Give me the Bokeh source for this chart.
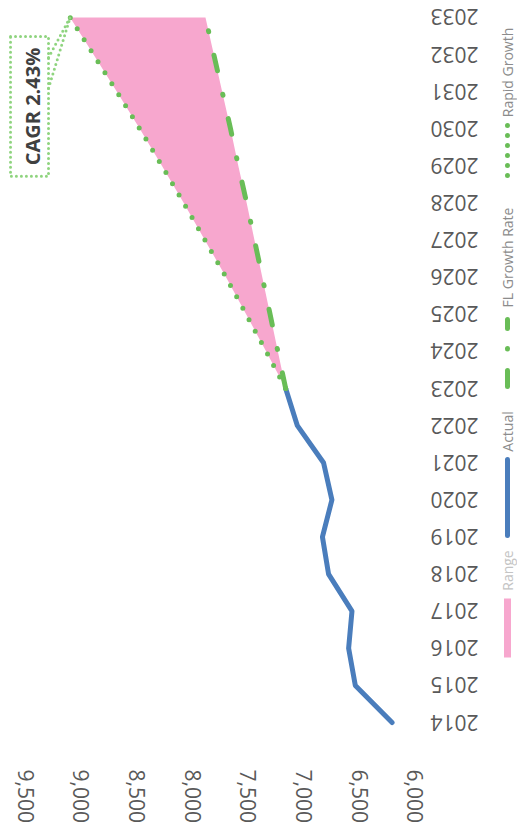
import math
from bokeh.plotting import figure
from bokeh.layouts import row
from bokeh.models import Range1d, FixedTicker, NumeralTickFormatter, Label, ColumnDataSource
from bokeh.core.properties import value
from bokeh.embed import file_html
from bokeh.resources import INLINE

# ---- data ----
years_actual = [2014, 2015, 2016, 2017, 2018, 2019, 2020, 2021, 2022, 2023]
actual = [6210, 6540, 6600, 6570, 6780, 6835, 6750, 6825, 7060, 7165]
years_proj = [2023, 2024, 2025, 2026, 2027, 2028, 2029, 2030, 2031, 2032, 2033]
fl_growth = [7165, 7235, 7305, 7375, 7445, 7515, 7590, 7660, 7735, 7810, 7885]
rapid_growth = [7165, 7340, 7520, 7700, 7890, 8080, 8275, 8475, 8680, 8890, 9100]
value_ticks = [6000, 6500, 7000, 7500, 8000, 8500, 9000, 9500]
year_ticks = list(range(2014, 2034))
year_labels = [str(y) for y in year_ticks]
cagr_text = "CAGR 2.43%"
legend_labels = ["Rapid Growth", "FL Growth Rate", "Actual", "Range"]

BLUE = "#4A7DBC"
GREEN = "#69BD57"
PINK = "#F7A7CE"
LABEL = "#595959"
FONT = "Open Sans"

FH, BT, BB = 755, 2, 70   # frame height, top / bottom borders shared by all panels

# ---- main plot (value axis horizontal, years vertical) ----
p = figure(frame_width=429, frame_height=FH, output_backend="svg", toolbar_location=None,
           x_range=Range1d(9725, 5874), y_range=Range1d(2013.057, 2033.404),
           x_axis_location="below", y_axis_location=None,
           min_border_left=0, min_border_right=0, min_border_top=BT, min_border_bottom=BB)
p.outline_line_color = None
p.grid.visible = False

xa = p.xaxis[0]
xa.ticker = FixedTicker(ticks=value_ticks)
xa.formatter = NumeralTickFormatter(format="0,0")
xa.major_label_orientation = "vertical"
xa.axis_line_color = None
xa.major_tick_line_color = None
xa.minor_tick_line_color = None
xa.major_label_standoff = 6
xa.major_label_text_font = FONT
xa.major_label_text_font_size = "21px"
xa.major_label_text_color = LABEL

p.line(actual, years_actual, line_color=BLUE, line_width=5, line_cap="round", line_join="round")
p.harea(y=years_proj, x1=fl_growth, x2=rapid_growth, fill_color=PINK)
p.line(fl_growth, years_proj, line_color=GREEN, line_width=5, line_cap="round",
       line_dash="16 24 1 24")
p.line(rapid_growth, years_proj, line_color=GREEN, line_width=5, line_cap="round",
       line_dash="0 13")

# CAGR callout
CALLOUT = "#8FD47F"
box_l, box_r, box_b, box_t = 9635, 9294, 2028.72, 2032.49
p.quad(left=[box_l], right=[box_r], bottom=[box_b], top=[box_t], fill_color=None,
       line_color=CALLOUT, line_width=3, line_dash="0 5", line_cap="round")
tip_x, tip_y = rapid_growth[-1], years_proj[-1]
p.segment(x0=[box_r, box_r], y0=[2031.92, 2031.09], x1=[tip_x, tip_x], y1=[tip_y, tip_y],
          line_color=CALLOUT, line_width=3, line_dash="0 5", line_cap="round")
p.add_layout(Label(x=9438, y=2030.60, text=cagr_text, angle=math.pi / 2,
                   text_align="center", text_baseline="middle", text_font=FONT,
                   text_font_size="20px", text_font_style="bold", text_color="#404040"))

# ---- year labels (upside down), shared year scale ----
yf = figure(frame_width=52, frame_height=FH, output_backend="svg", toolbar_location=None,
            x_range=Range1d(0, 52), y_range=p.y_range,
            min_border_left=0, min_border_right=0, min_border_top=BT, min_border_bottom=BB)
yf.axis.visible = False
yf.grid.visible = False
yf.outline_line_color = None
ysrc = ColumnDataSource(dict(y=year_ticks, t=year_labels, x=[25] * len(year_ticks)))
yf.text(x="x", y="y", text="t", source=ysrc, angle=math.pi, text_align="center",
        text_baseline="middle", text_font=value(FONT), text_font_size="21px", text_color=LABEL)

# ---- legend (rotated) ----
LW = 36
lg = figure(frame_width=LW, frame_height=FH, output_backend="svg", toolbar_location=None,
            x_range=Range1d(0, LW), y_range=Range1d(-(BT + FH), -BT),
            min_border_left=0, min_border_right=0, min_border_top=BT, min_border_bottom=BB)
lg.axis.visible = False
lg.grid.visible = False
lg.outline_line_color = None
LX = 26


def top(v):
    return -v


text_pos = [72, 257, 431, 570]
text_cols = ["#8C8C8C", "#8C8C8C", "#8C8C8C", "#C4C4C4"]
for t, pos, c in zip(legend_labels, text_pos, text_cols):
    lg.text(x=[LX], y=[top(pos)], text=[t], angle=math.pi / 2, text_align="center",
            text_baseline="middle", text_font=value(FONT), text_font_size="14px", text_color=c)
lg.segment(x0=[LX], y0=[top(125)], x1=[LX], y1=[top(185)], line_color=GREEN, line_width=5,
           line_cap="round", line_dash="0 10")
lg.segment(x0=[LX, LX, LX], y0=[top(319), top(348), top(370)], x1=[LX, LX, LX],
           y1=[top(328), top(348.5), top(386)], line_color=GREEN, line_width=5, line_cap="round")
lg.segment(x0=[LX], y0=[top(459)], x1=[LX], y1=[top(535)], line_color=BLUE, line_width=5,
           line_cap="round")
lg.quad(left=[LX - 3.5], right=[LX + 3.5], bottom=[top(657)], top=[top(598)], fill_color=PINK,
        line_color=None)

layout = row(p, yf, lg, spacing=0)
open("out.html", "w").write(file_html(layout, INLINE))
